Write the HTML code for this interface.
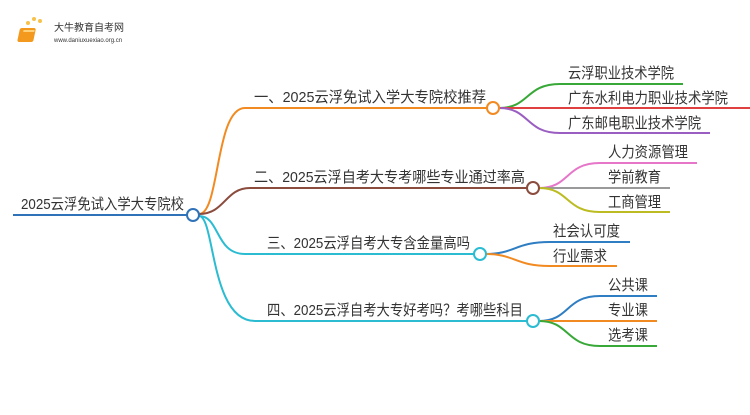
<!DOCTYPE html>
<html><head><meta charset="utf-8"><style>
body{margin:0;background:#fff}
svg text{font-family:"Liberation Sans","Noto Sans CJK SC",sans-serif;fill:#333}
</style></head><body>
<svg width="750" height="410" viewBox="0 0 750 410" xmlns="http://www.w3.org/2000/svg">
<g>
<circle cx="24" cy="30" r="2" fill="#f7c24a"/><circle cx="28" cy="23" r="2" fill="#f7c24a"/><circle cx="34" cy="19" r="2" fill="#f7c24a"/><circle cx="40" cy="21" r="2" fill="#f7c24a"/><circle cx="23" cy="37" r="1.5" fill="#f7c24a"/>
<rect x="26" y="28" width="16" height="14" rx="2" fill="#f39a1e" transform="skewX(-12)"/>
<rect x="30" y="30" width="11" height="2" fill="#ffd27a" transform="skewX(-12)"/>
<text x="54" y="31" font-size="10" fill="#333">大牛教育自考网</text>
<text x="54" y="42" font-size="6" fill="#666">www.daniuxuexiao.org.cn</text>
</g>
<g fill="none" stroke-width="2">
<line x1="13" y1="215" x2="187" y2="215" stroke="#2f72b8"/>
<path d="M199,214 C220,214 215,108 245,108 L487,108" stroke="#f28a22"/>
<path d="M199,214 C225,214 225,188 250,188 L527,188" stroke="#8b4c3e"/>
<path d="M199,216 C220,216 215,254 245,254 L474,254" stroke="#2bbcd2"/>
<path d="M199,216 C215,216 210,321 255,321 L527,321" stroke="#2bbcd2"/>
<path d="M499,108 C530,108 525,84 560,84 L683,84" stroke="#38a838"/>
<path d="M499,108 L750,108" stroke="#e0403f"/>
<path d="M499,108 C530,108 525,133 560,133 L710,133" stroke="#9a5ec2"/>
<path d="M539,188 C570,188 565,163 600,163 L697,163" stroke="#e676c8"/>
<path d="M539,188 L670,188" stroke="#9a9a9a"/>
<path d="M539,188 C570,188 565,212 600,212 L670,212" stroke="#bcbc22"/>
<path d="M486,254 C515,254 515,242 550,242 L630,242" stroke="#2f7dc2"/>
<path d="M486,254 C515,254 515,266 550,266 L617,266" stroke="#f28a22"/>
<path d="M539,321 C570,321 565,296 600,296 L657,296" stroke="#2f7dc2"/>
<path d="M539,321 L657,321" stroke="#f28a22"/>
<path d="M539,321 C570,321 565,346 600,346 L657,346" stroke="#38a838"/>
<circle cx="193" cy="215" r="6" fill="#fff" stroke="#2f72b8"/>
<circle cx="493" cy="108" r="6" fill="#fff" stroke="#f28a22"/>
<circle cx="533" cy="188" r="6" fill="#fff" stroke="#8b4c3e"/>
<circle cx="480" cy="254" r="6" fill="#fff" stroke="#2bbcd2"/>
<circle cx="533" cy="321" r="6" fill="#fff" stroke="#2bbcd2"/>
</g>
<g font-size="15">
<text x="21" y="209" textLength="163" lengthAdjust="spacingAndGlyphs">2025云浮免试入学大专院校</text>
<text x="254" y="102" textLength="232" lengthAdjust="spacingAndGlyphs">一、2025云浮免试入学大专院校推荐</text>
<text x="254" y="182" textLength="271" lengthAdjust="spacingAndGlyphs">二、2025云浮自考大专考哪些专业通过率高</text>
<text x="267" y="248" textLength="203" lengthAdjust="spacingAndGlyphs">三、2025云浮自考大专含金量高吗</text>
<text x="267" y="315" textLength="256" lengthAdjust="spacingAndGlyphs">四、2025云浮自考大专好考吗？考哪些科目</text>
<text x="568" y="78" textLength="106" lengthAdjust="spacingAndGlyphs">云浮职业技术学院</text>
<text x="568" y="103" textLength="160" lengthAdjust="spacingAndGlyphs">广东水利电力职业技术学院</text>
<text x="568" y="128" textLength="133" lengthAdjust="spacingAndGlyphs">广东邮电职业技术学院</text>
<text x="608" y="157" textLength="80" lengthAdjust="spacingAndGlyphs">人力资源管理</text>
<text x="608" y="182" textLength="53" lengthAdjust="spacingAndGlyphs">学前教育</text>
<text x="608" y="207" textLength="53" lengthAdjust="spacingAndGlyphs">工商管理</text>
<text x="553" y="236" textLength="67" lengthAdjust="spacingAndGlyphs">社会认可度</text>
<text x="553" y="261" textLength="54" lengthAdjust="spacingAndGlyphs">行业需求</text>
<text x="608" y="290" textLength="40" lengthAdjust="spacingAndGlyphs">公共课</text>
<text x="608" y="315" textLength="40" lengthAdjust="spacingAndGlyphs">专业课</text>
<text x="608" y="340" textLength="40" lengthAdjust="spacingAndGlyphs">选考课</text>
</g>
</svg>
</body></html>
